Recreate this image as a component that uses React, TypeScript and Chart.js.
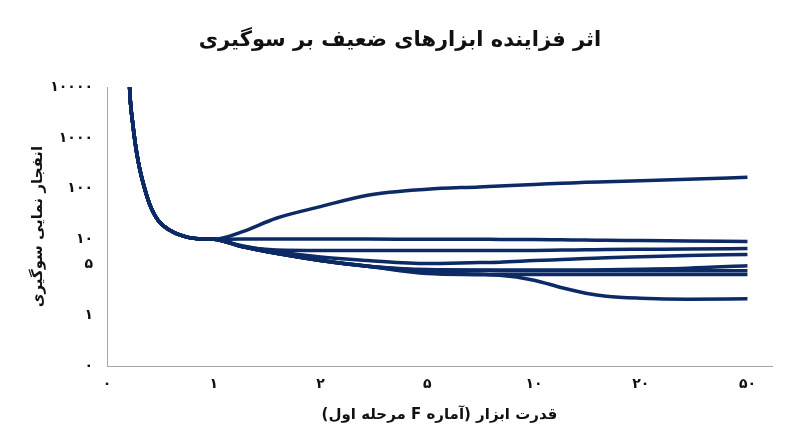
import React, { useRef, useEffect } from "react";
import Chart from "chart.js/auto";

// F statistic of the first stage, shared by every curve
const fStat = [
  0.19, 0.21, 0.22, 0.24, 0.26, 0.28, 0.31, 0.35, 0.4, 0.48, 0.59, 0.75, 0.9, 1,
  1.2, 1.5, 2, 3, 5, 7, 8, 10, 12, 14, 16, 20, 30, 50,
];

// common steep part (F from 0.19 to 1)
const weakPart = [35000, 11000, 4900, 2000, 920, 480, 225, 105, 49, 23.5, 15, 11, 10.1, 10];

// tails after F = 1
const tailA = [14, 26, 44, 74, 97, 108, 113, 121, 127, 133, 136, 142, 152, 167];
const tailB = [10.1, 10.1, 10.1, 10.1, 10.0, 10.0, 9.95, 9.93, 9.85, 9.8, 9.72, 9.66, 9.53, 9.4];
const tailC = [8.2, 7.45, 7.35, 7.35, 7.35, 7.35, 7.35, 7.38, 7.45, 7.5, 7.55, 7.6, 7.65, 7.76];
const tailD = [8.4, 7.15, 6.15, 5.6, 5.15, 5.3, 5.35, 5.58, 5.75, 5.9, 6.05, 6.2, 6.4, 6.6];
const tailE = [8.2, 6.8, 5.6, 4.75, 4.27, 4.23, 4.23, 4.23, 4.23, 4.23, 4.25, 4.33, 4.47, 4.84];
const tailF = [8.2, 6.8, 5.6, 4.75, 4.2, 4.15, 4.13, 4.13, 4.13, 4.13, 4.13, 4.13, 4.13, 4.13];
const tailG = [8.2, 6.8, 5.6, 4.75, 3.88, 3.7, 3.64, 3.64, 3.64, 3.64, 3.64, 3.64, 3.64, 3.64];
const tailH = [8.2, 6.8, 5.6, 4.75, 3.76, 3.62, 3.56, 3.05, 2.4, 2.02, 1.83, 1.72, 1.67, 1.69];

const tails = [tailA, tailB, tailC, tailD, tailE, tailF, tailG, tailH];

// axes: tick values, where they sit on the axis, and their labels
const xTickValues = [0, 1, 2, 5, 10, 20, 50];
const xTickPos = [0, 1, 2, 3, 4, 5, 6];
const xTickLabels = ["۰", "۱", "۲", "۵", "۱۰", "۲۰", "۵۰"];

const yTickValues = [0, 1, 5, 10, 100, 1000, 10000];
const yTickPos = [0, 1, 2, 2.5, 3.5, 4.5, 5.5];
const yTickLabels = ["۰", "۱", "۵", "۱۰", "۱۰۰", "۱۰۰۰", "۱۰۰۰۰"];

const chartTitle = "اثر فزاینده ابزارهای ضعیف بر سوگیری";
const xTitle = "قدرت ابزار (آماره F مرحله اول)";
const yTitle = "انفجار نمایی سوگیری";

const lineColor = "#0c2a66";
const textColor = "#111111";
const fontFamily = "'DejaVu Sans', sans-serif";

// piecewise axis: linear between the first two ticks, logarithmic after
function toAxis(v: number, anchors: number[], pos: number[]) {
  if (v <= anchors[1]) {
    return pos[0] + ((v - anchors[0]) / (anchors[1] - anchors[0])) * (pos[1] - pos[0]);
  }
  let i = 1;
  while (i < anchors.length - 2 && v > anchors[i + 1]) i++;
  const t = Math.log(v / anchors[i]) / Math.log(anchors[i + 1] / anchors[i]);
  return pos[i] + t * (pos[i + 1] - pos[i]);
}

export default function App() {
  const canvasRef = useRef<HTMLCanvasElement | null>(null);
  const chartRef = useRef<Chart | null>(null);

  useEffect(() => {
    document.body.style.margin = "0";
    const ctx = canvasRef.current?.getContext("2d");
    if (!ctx) return;
    if (chartRef.current) chartRef.current.destroy();

    const datasets = tails.map((tail) => {
      const values = [...weakPart, ...tail];
      return {
        data: values.map((v, i) => ({
          x: toAxis(fStat[i], xTickValues, xTickPos),
          y: toAxis(v, yTickValues, yTickPos),
        })),
        borderColor: lineColor,
        borderWidth: 3.5,
        pointRadius: 0,
        cubicInterpolationMode: "monotone" as const,
        fill: false,
        clip: 0,
      };
    });

    chartRef.current = new Chart(ctx, {
      type: "line",
      data: { datasets },
      options: {
        animation: false,
        responsive: true,
        maintainAspectRatio: false,
        layout: { padding: { top: 26, left: 28, right: 28, bottom: 0 } },
        plugins: {
          legend: { display: false },
          tooltip: { enabled: false },
          title: {
            display: true,
            text: chartTitle,
            color: textColor,
            font: { family: fontFamily, size: 21, weight: "bold" },
            padding: { top: 2, bottom: 34 },
          },
        },
        scales: {
          x: {
            type: "linear",
            min: 0,
            max: 6.23,
            grid: { display: false, drawTicks: false },
            border: { display: true, color: "#a6a6a6", width: 1 },
            afterBuildTicks: (scale: any) => {
              scale.ticks = xTickPos.map((v) => ({ value: v }));
            },
            afterFit: (scale: any) => {
              scale.height = 81;
            },
            ticks: {
              autoSkip: false,
              maxRotation: 0,
              padding: 10,
              color: textColor,
              font: { family: fontFamily, size: 14, weight: "bold" },
              callback: (_v: any, i: number) => xTickLabels[i],
            },
            title: {
              display: true,
              text: xTitle,
              color: textColor,
              font: { family: fontFamily, size: 15, weight: "bold" },
              padding: { top: 0, bottom: 23 },
            },
          },
          y: {
            type: "linear",
            min: 0,
            max: 5.5,
            grid: { display: false, drawTicks: false },
            border: { display: true, color: "#a6a6a6", width: 1 },
            afterBuildTicks: (scale: any) => {
              scale.ticks = yTickPos.map((v) => ({ value: v }));
            },
            afterFit: (scale: any) => {
              scale.width = 79;
            },
            ticks: {
              autoSkip: false,
              padding: 14,
              color: textColor,
              font: { family: fontFamily, size: 14, weight: "bold" },
              callback: (_v: any, i: number) => yTickLabels[i],
            },
            title: {
              display: true,
              text: yTitle,
              color: textColor,
              font: { family: fontFamily, size: 15, weight: "bold" },
              padding: { top: 1, bottom: 0 },
            },
          },
        },
      },
    });

    return () => {
      if (chartRef.current) {
        chartRef.current.destroy();
        chartRef.current = null;
      }
    };
  }, []);

  return (
    <div style={{ width: 800, height: 447, position: "relative" }}>
      <canvas ref={canvasRef} dir="rtl" />
    </div>
  );
}
